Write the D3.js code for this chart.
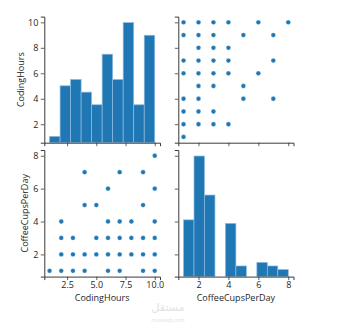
<!DOCTYPE html>
<html>
<head>
<meta charset="utf-8">
<script src="https://cdn.jsdelivr.net/npm/d3@7"></script>
<style>
  body { margin: 0; background: #fff; }
  svg { display: block; }
  text { font-family: "Open Sans", "DejaVu Sans", sans-serif; fill: #262626; }
</style>
</head>
<body>
<svg id="chart" width="358" height="330"></svg>
<script>
// ---- data ----
const variables = ["CodingHours", "CoffeeCupsPerDay"];
// unique (CodingHours, CoffeeCupsPerDay) pairs seen in the scatter panels
const codingHours = [1, 2,2,2,2, 3,3,3, 4,4,4,4, 5,5,5, 6,6,6,6,6, 7,7,7,7,7, 8,8,8, 9,9,9,9,9, 10,10,10,10,10,10];
const coffeeCups  = [1, 1,2,3,4, 1,2,3, 1,2,5,7, 2,3,5, 1,2,3,4,6, 1,2,3,4,7, 2,3,4, 1,2,3,5,7, 1,2,3,4,6,8];
// histogram bin counts (10 bins each, over the data range)
const codingHist = [1, 9, 10, 8, 6, 14, 10, 19, 6, 17];
const coffeeHist = [16, 34, 23, 0, 15, 3, 0, 4, 3, 2];
const codingTicks = [2, 4, 6, 8, 10];
const codingXTicks = [2.5, 5.0, 7.5, 10.0];
const coffeeTicks = [2, 4, 6, 8];

const svg = d3.select("#chart");
const blue = "#1f77b4";

const colX = [[44.3, 160], [178.3, 293.5]];
const rowY = [[16.6, 142.7], [150, 276.6]];

function padded(min, max) { const p = (max - min) * 0.05; return [min - p, max + p]; }
const codingDom = padded(1, 10), coffeeDom = padded(1, 8);
const doms = [codingDom, coffeeDom];
const xScales = doms.map((d, i) => d3.scaleLinear().domain(d).range(colX[i]));
const yScales = doms.map((d, i) => d3.scaleLinear().domain(d).range([rowY[i][1], rowY[i][0]]));
const xTickVals = [codingXTicks, coffeeTicks];
const yTickVals = [codingTicks, coffeeTicks];

function styleAxis(g) {
  g.selectAll(".domain").attr("stroke", "#3a3a3a").attr("stroke-width", 1);
  g.selectAll(".tick line").attr("stroke", "#3a3a3a").attr("stroke-width", 0.8);
  g.selectAll(".tick text").style("font-size", "9px").attr("fill", "#262626");
}

for (let r = 0; r < 2; r++) {
  for (let c = 0; c < 2; c++) {
    const x = xScales[c], y = yScales[r];
    const g = svg.append("g");
    if (r === c) {
      const counts = r === 0 ? codingHist : coffeeHist;
      const dom = r === 0 ? [1, 10] : [1, 8];
      const w = (dom[1] - dom[0]) / counts.length;
      const hy = d3.scaleLinear().domain([0, d3.max(counts) * 1.05]).range([rowY[r][1], rowY[r][0]]);
      g.selectAll("rect").data(counts).join("rect")
        .attr("x", (d, i) => x(dom[0] + i * w))
        .attr("width", (d, i) => x(dom[0] + (i + 1) * w) - x(dom[0] + i * w))
        .attr("y", d => hy(d))
        .attr("height", d => hy(0) - hy(d))
        .attr("fill", blue)
        .attr("stroke", d => d > 0 ? "#8fbbe0" : "none")
        .attr("stroke-width", 0.7);
    } else {
      const xs = c === 0 ? codingHours : coffeeCups;
      const ys = r === 0 ? codingHours : coffeeCups;
      g.selectAll("circle").data(xs).join("circle")
        .attr("cx", d => x(d))
        .attr("cy", (d, i) => y(ys[i]))
        .attr("r", 2.4)
        .attr("fill", blue)
        .attr("stroke", "#ffffff")
        .attr("stroke-width", 0.4);
    }
    // axes
    const xa = d3.axisBottom(x).tickValues(xTickVals[c]).tickSizeOuter(0).tickSize(3.5).tickPadding(1.5)
      .tickFormat(r === 1 ? (c === 0 ? d3.format(".1f") : d3.format("d")) : () => "");
    const gx = svg.append("g").attr("transform", `translate(0,${rowY[r][1]})`).call(xa);
    styleAxis(gx);
    const ya = d3.axisLeft(y).tickValues(yTickVals[r]).tickSizeOuter(0).tickSize(3.5).tickPadding(2.5)
      .tickFormat(c === 0 ? d3.format("d") : () => "");
    const gy = svg.append("g").attr("transform", `translate(${colX[c][0]},0)`).call(ya);
    styleAxis(gy);
  }
}

// axis labels
svg.append("text").attr("x", (colX[0][0] + colX[0][1]) / 2).attr("y", 301)
  .attr("text-anchor", "middle").style("font-size", "9px").text(variables[0]);
svg.append("text").attr("x", (colX[1][0] + colX[1][1]) / 2).attr("y", 301)
  .attr("text-anchor", "middle").style("font-size", "9px").text(variables[1]);
svg.append("text").attr("transform", `translate(24,${(rowY[0][0] + rowY[0][1]) / 2}) rotate(-90)`)
  .attr("text-anchor", "middle").style("font-size", "9px").text(variables[0]);
svg.append("text").attr("transform", `translate(28,${(rowY[1][0] + rowY[1][1]) / 2}) rotate(-90)`)
  .attr("text-anchor", "middle").style("font-size", "9px").text(variables[1]);

// watermark
svg.append("text").attr("x", 168).attr("y", 311).attr("text-anchor", "middle")
  .style("font-size", "11px").style("font-family", "'DejaVu Sans', sans-serif")
  .style("fill", "#e2e2e2").text("مستقل");
svg.append("text").attr("x", 168).attr("y", 322).attr("text-anchor", "middle")
  .style("font-size", "5.5px").style("fill", "#e2e2e2").text("mostaql.com");
</script>
</body>
</html>
